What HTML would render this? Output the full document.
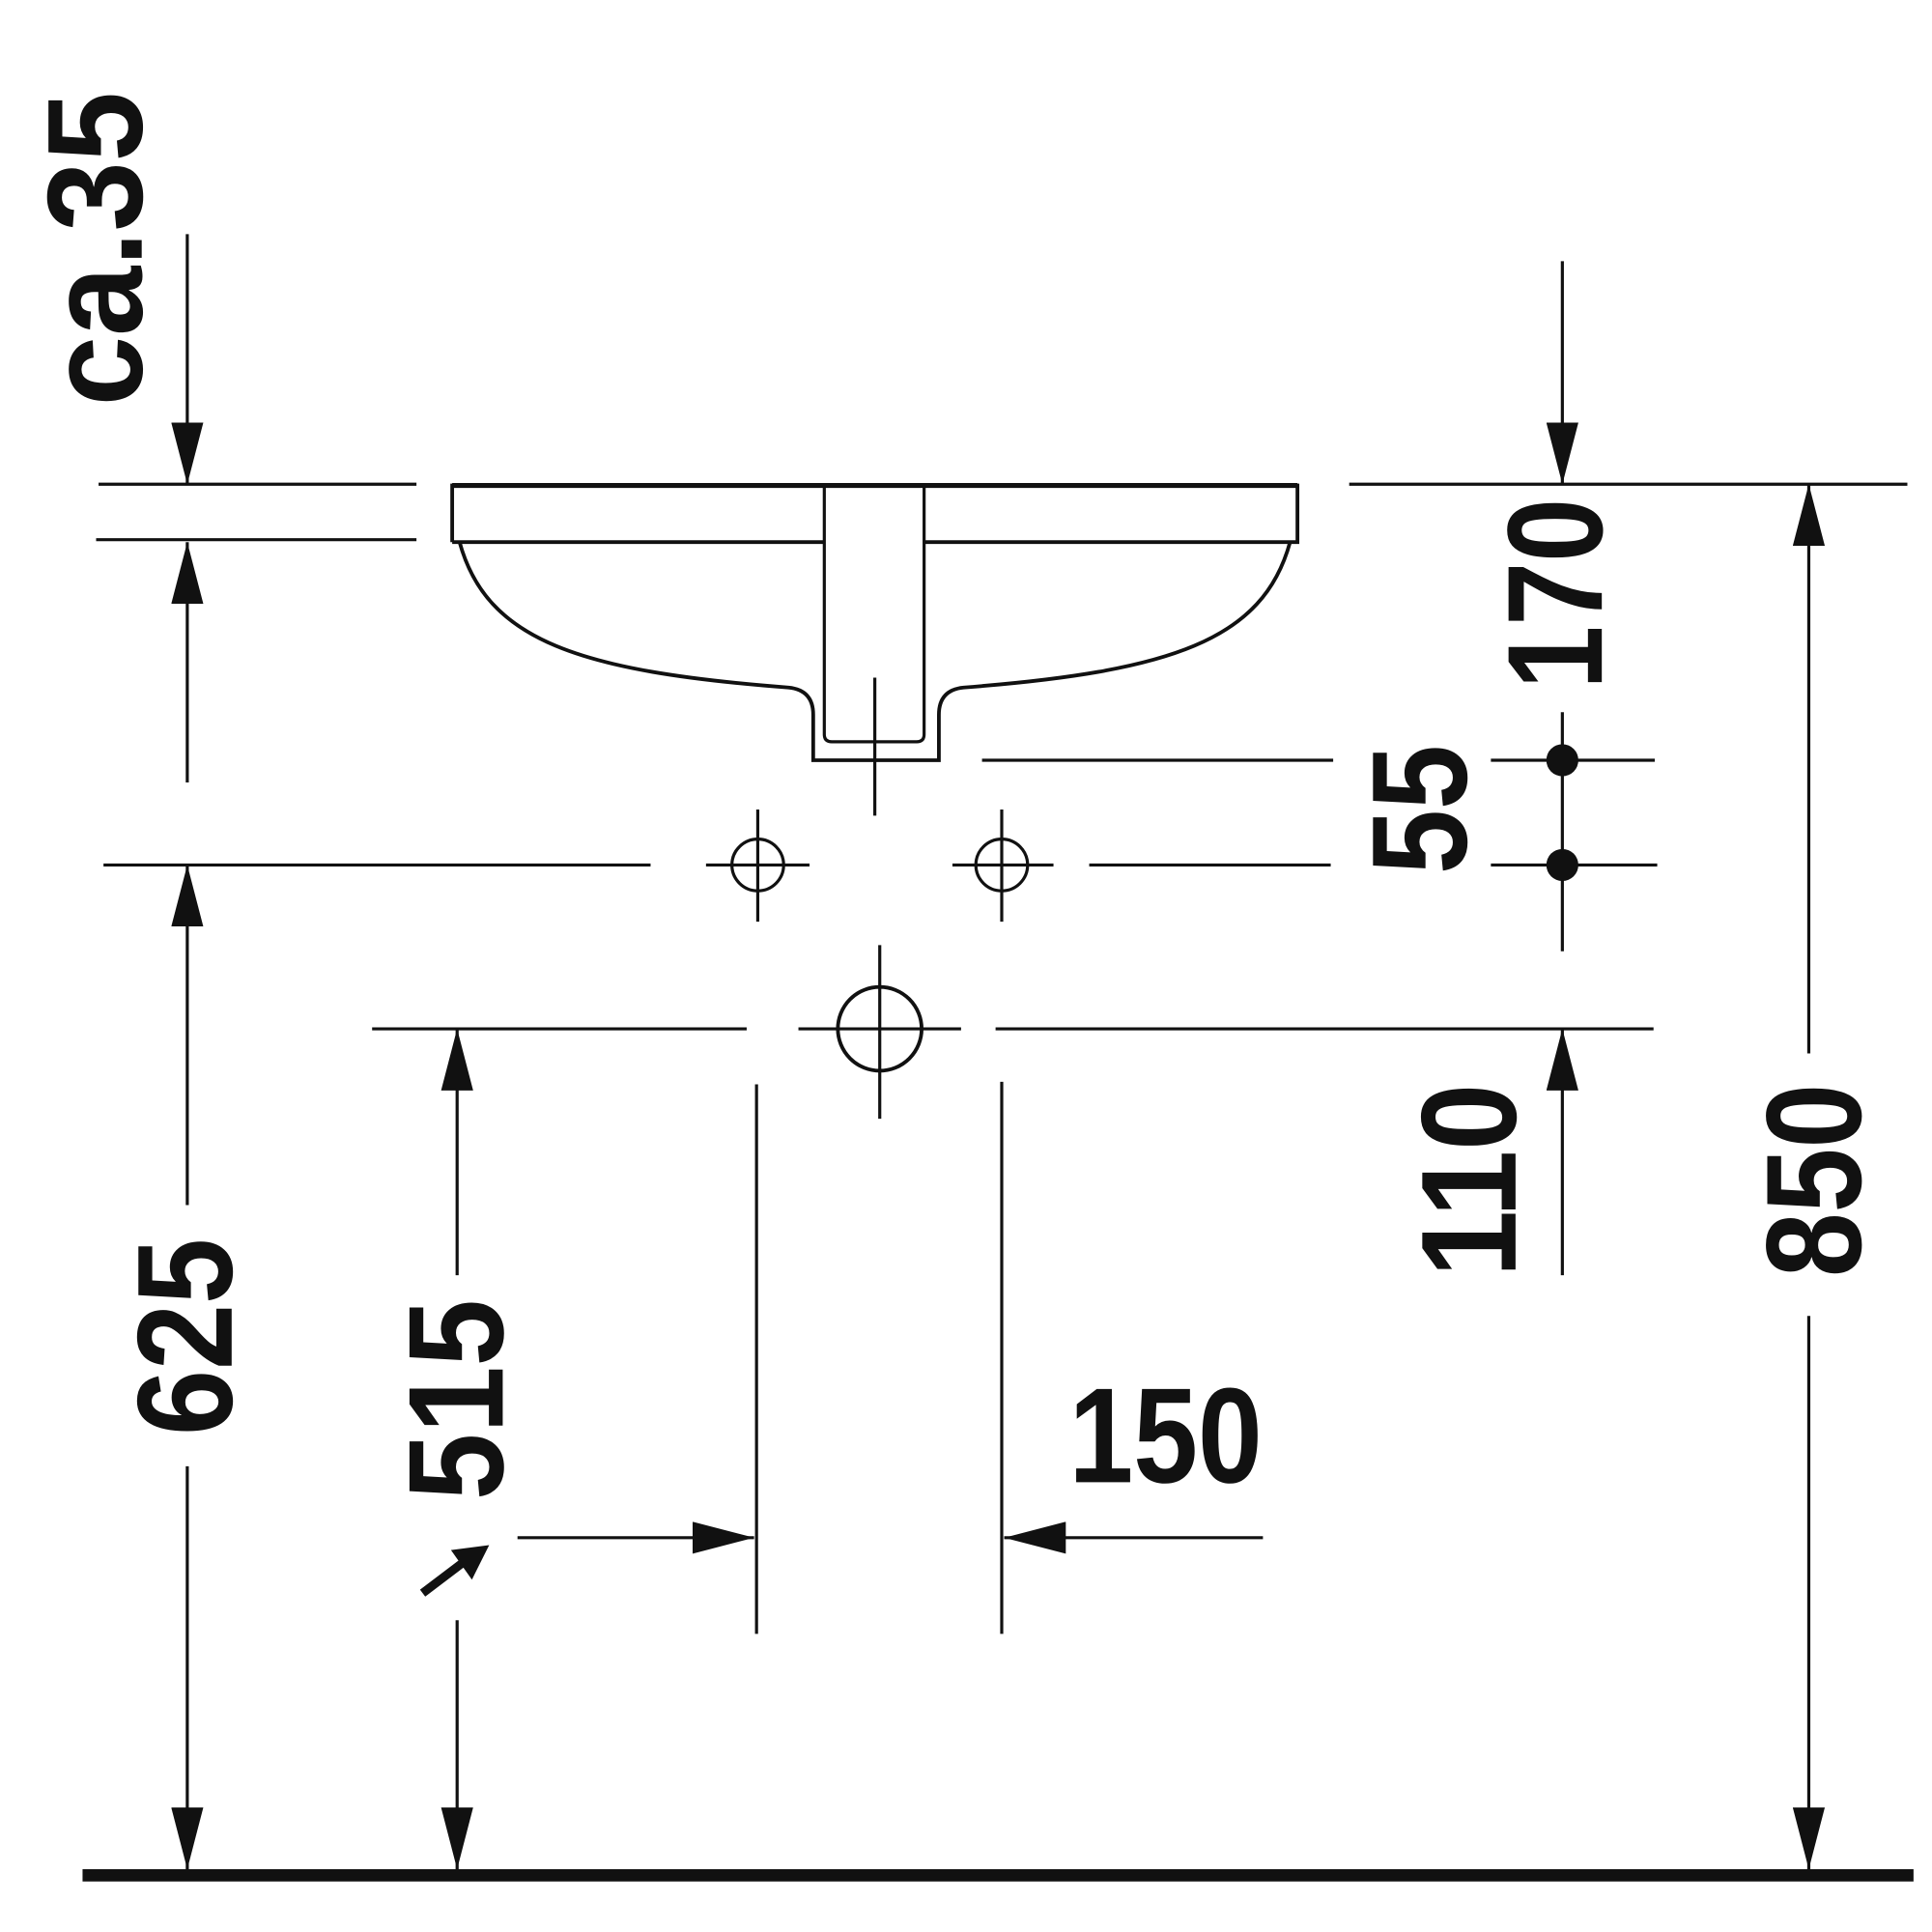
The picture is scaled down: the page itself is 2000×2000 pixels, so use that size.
<!DOCTYPE html>
<html><head><meta charset="utf-8"><style>html,body{margin:0;padding:0;background:#fff}svg{display:block}</style></head>
<body>
<svg width="2000" height="2000" viewBox="0 0 1568 1568" xmlns="http://www.w3.org/2000/svg">
<defs>
<marker id="a" viewBox="0 0 50 26" refX="50" refY="13" markerWidth="50" markerHeight="26" markerUnits="userSpaceOnUse" orient="auto"><path d="M0,0 L50,13 L0,26 Z" fill="#111"/></marker>
</defs>
<g stroke="#111" stroke-width="2.5" fill="none">
<line x1="80" y1="393" x2="338" y2="393"/>
<line x1="78" y1="438" x2="338" y2="438"/>
<line x1="152" y1="190" x2="152" y2="393" marker-end="url(#a)"/>
<line x1="152" y1="635" x2="152" y2="440" marker-end="url(#a)"/>
<path d="M367,440 L367,394 L1053,394 L1053,440 L750,440" stroke-width="3"/>
<line x1="367" y1="394" x2="1053" y2="394" stroke-width="4"/>
<line x1="367" y1="440" x2="669" y2="440" stroke-width="3"/>
<path d="M669,394 L669,596 Q669,602 675,602 L744,602 Q750,602 750,596 L750,394"/>
<path d="M373,440 C395,520 470,545 640,558 Q660,560 660,580 L660,617 L762,617 L762,580 Q762,560 782,558 C950,545 1025,520 1047,440" stroke-width="3"/>
<line x1="710" y1="550" x2="710" y2="662"/>
<circle cx="615" cy="702" r="21"/><line x1="573" y1="702" x2="657" y2="702"/><line x1="615" y1="657" x2="615" y2="748"/>
<circle cx="813" cy="702" r="21"/><line x1="773" y1="702" x2="855" y2="702"/><line x1="813" y1="657" x2="813" y2="748"/>
<circle cx="714" cy="835" r="34" stroke-width="3"/><line x1="648" y1="835" x2="780" y2="835"/><line x1="714" y1="767" x2="714" y2="908"/>
<line x1="84" y1="702" x2="528" y2="702"/>
<line x1="884" y1="702" x2="1080" y2="702"/>
<line x1="1210" y1="702" x2="1345" y2="702"/>
<line x1="797" y1="617" x2="1082" y2="617"/>
<line x1="1210" y1="617" x2="1343" y2="617"/>
<line x1="1268" y1="578" x2="1268" y2="772"/>
<line x1="302" y1="835" x2="606" y2="835"/>
<line x1="808" y1="835" x2="1342" y2="835"/>
<line x1="1095" y1="393" x2="1548" y2="393"/>
<line x1="1268" y1="212" x2="1268" y2="393" marker-end="url(#a)"/>
<line x1="1268" y1="1035" x2="1268" y2="835" marker-end="url(#a)"/>
<line x1="1468" y1="855" x2="1468" y2="393" marker-end="url(#a)"/>
<line x1="1468" y1="1068" x2="1468" y2="1517" marker-end="url(#a)"/>
<line x1="152" y1="978" x2="152" y2="702" marker-end="url(#a)"/>
<line x1="152" y1="1190" x2="152" y2="1517" marker-end="url(#a)"/>
<line x1="371" y1="1035" x2="371" y2="835" marker-end="url(#a)"/>
<line x1="371" y1="1315" x2="371" y2="1517" marker-end="url(#a)"/>
<line x1="614" y1="880" x2="614" y2="1326"/>
<line x1="813" y1="878" x2="813" y2="1326"/>
<line x1="420" y1="1248" x2="612" y2="1248" marker-end="url(#a)"/>
<line x1="1025" y1="1248" x2="815" y2="1248" marker-end="url(#a)"/>
</g>
<line x1="343" y1="1293" x2="376" y2="1268" stroke="#111" stroke-width="7"/>
<polygon points="397,1254 366,1258 383,1282" fill="#111"/>
<circle cx="1268" cy="617" r="13" fill="#111"/>
<circle cx="1268" cy="702" r="13" fill="#111"/>
<rect x="67" y="1517" width="1486" height="10" fill="#111"/>
<g font-family="Liberation Sans, sans-serif" font-weight="bold" font-size="110" fill="#111" text-anchor="middle">
<text transform="translate(115,202) rotate(-90)" textLength="255" lengthAdjust="spacingAndGlyphs">ca.35</text>
<text transform="translate(1300,482) rotate(-90)" textLength="155" lengthAdjust="spacingAndGlyphs">170</text>
<text transform="translate(1190,657) rotate(-90)" textLength="105" lengthAdjust="spacingAndGlyphs">55</text>
<text transform="translate(1230,958) rotate(-90)" textLength="157" lengthAdjust="spacingAndGlyphs">110</text>
<text transform="translate(1510,958) rotate(-90)" textLength="157" lengthAdjust="spacingAndGlyphs">850</text>
<text transform="translate(188,1085) rotate(-90)" textLength="160" lengthAdjust="spacingAndGlyphs">625</text>
<text transform="translate(408,1136) rotate(-90)" textLength="163" lengthAdjust="spacingAndGlyphs">515</text>
<text x="946" y="1203" textLength="157" lengthAdjust="spacingAndGlyphs">150</text>
</g>
</svg>
</body></html>
